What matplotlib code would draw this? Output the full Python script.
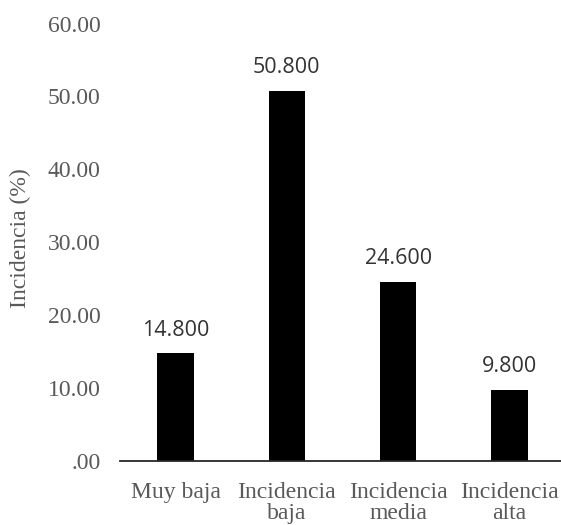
import matplotlib
matplotlib.use('Agg')
import matplotlib.pyplot as plt

categorias = ["Muy baja", "Incidencia\nbaja", "Incidencia\nmedia", "Incidencia\nalta"]
incidencia = [14.8, 50.8, 24.6, 9.8]
y_ticks = [0, 10, 20, 30, 40, 50, 60]
y_tick_labels = [".00", "10.00", "20.00", "30.00", "40.00", "50.00", "60.00"]

gray = "#595959"
serif = ["Liberation Serif", "DejaVu Serif"]

fig = plt.figure(figsize=(5.61, 5.25), dpi=100)
ax = fig.add_axes([120 / 561, 64 / 525, 445 / 561, 437.5 / 525])

x = range(len(categorias))
bars = ax.bar(x, incidencia, width=0.33, color="black")

for b, v in zip(bars, incidencia):
    ax.annotate(f"{v:.3f}", (b.get_x() + b.get_width() / 2, v), xytext=(0, 9),
                textcoords="offset points", ha="center", va="bottom",
                fontsize=15.5, color="#333333", family=["Open Sans", "DejaVu Sans"])

ax.set_xlim(-0.5, 3.5)
ax.set_ylim(0, 60)
ax.set_yticks(y_ticks)
ax.set_yticklabels(y_tick_labels, family=serif, fontsize=17, color=gray)
ax.set_xticks(list(x))
ax.set_xticklabels(categorias, family=serif, fontsize=17, color=gray, linespacing=1.0)
ax.tick_params(axis="y", length=0, pad=14)
ax.tick_params(axis="x", length=0, pad=15)

for s in ["top", "right", "left"]:
    ax.spines[s].set_visible(False)
ax.spines["bottom"].set_color("#262626")
ax.spines["bottom"].set_linewidth(1.3)

ax.set_ylabel("Incidencia (%)", family=serif, fontsize=17, color=gray)
ax.yaxis.set_label_coords(-0.2, 0.51)

fig.savefig("out.png", dpi=100)
